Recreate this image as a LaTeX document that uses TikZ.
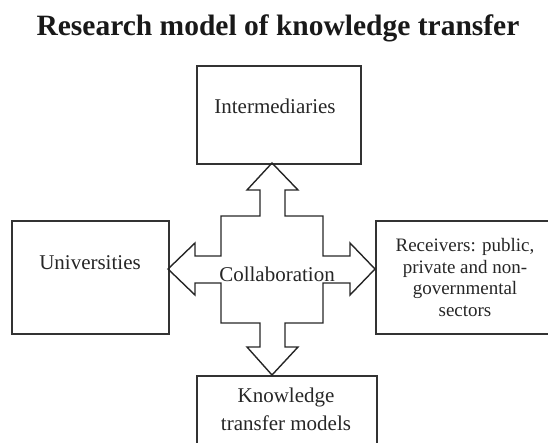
\documentclass[tikz,border=0pt]{standalone}
\usepackage{fontspec}
\setmainfont{Liberation Serif}
\usetikzlibrary{positioning}

\begin{document}
\begin{tikzpicture}[x=1pt, y=-1pt,
    block/.style={rectangle, draw=black!80, line width=1.6pt, anchor=north west, inner sep=0pt},
    boxtext/.style={font=\fontsize{21}{28}\selectfont, text=black!85, anchor=base, align=center, inner sep=0pt},
    cross/.style={draw=black!85, line width=1.4pt, line join=miter}]

    \useasboundingbox (0,0) rectangle (548,442);
    \clip (0,0) rectangle (548,442);

    \node [font=\fontsize{29.5}{34}\selectfont\bfseries, text=black!90, anchor=base] (title) at (278,35) {Research model of knowledge transfer};

    % the four boxes
    \node [block, minimum width=164pt, minimum height=98pt] (inter) at (196,65) {};
    \node [block, minimum width=157pt, minimum height=113pt] (uni) at (11,220) {};
    \node [block, minimum width=190pt, minimum height=113pt] (recv) at (375,220) {};
    \node [block, minimum width=180pt, minimum height=100pt] (know) at (196,375) {};

    % base anchor sits on the last line
    \node [boxtext] (intertext) at (275,113) {Intermediaries};
    \node [boxtext] (unitext) at (90,269) {Universities};
    \node [boxtext, font=\fontsize{19}{21.5}\selectfont] (recvtext) at (465,316) {Receivers: public,\\private and non-\\governmental\\sectors};
    \node [boxtext] (knowtext) at (286,430) {Knowledge\\transfer models};

    % four-way arrow
    \coordinate (uptip) at (272,163);
    \draw [cross] (uptip) -- ++(26,27) -- ++(-13,0) -- ++(0,26) -- ++(38,0) -- ++(0,40)
        -- ++(27,0) -- ++(0,-13) -- ++(25,26) -- ++(-25,26) -- ++(0,-12) -- ++(-27,0)
        -- ++(0,40) -- ++(-38,0) -- ++(0,24) -- ++(13,0) -- ++(-26,28) -- ++(-25,-28)
        -- ++(13,0) -- ++(0,-24) -- ++(-39,0) -- ++(0,-40) -- ++(-26,0) -- ++(0,12)
        -- ++(-27,-26) -- ++(27,-26) -- ++(0,13) -- ++(26,0) -- ++(0,-40) -- ++(39,0)
        -- ++(0,-26) -- ++(-13,0) -- cycle;

    \node [boxtext] (collab) at (277,281) {Collaboration};
\end{tikzpicture}
\end{document}
